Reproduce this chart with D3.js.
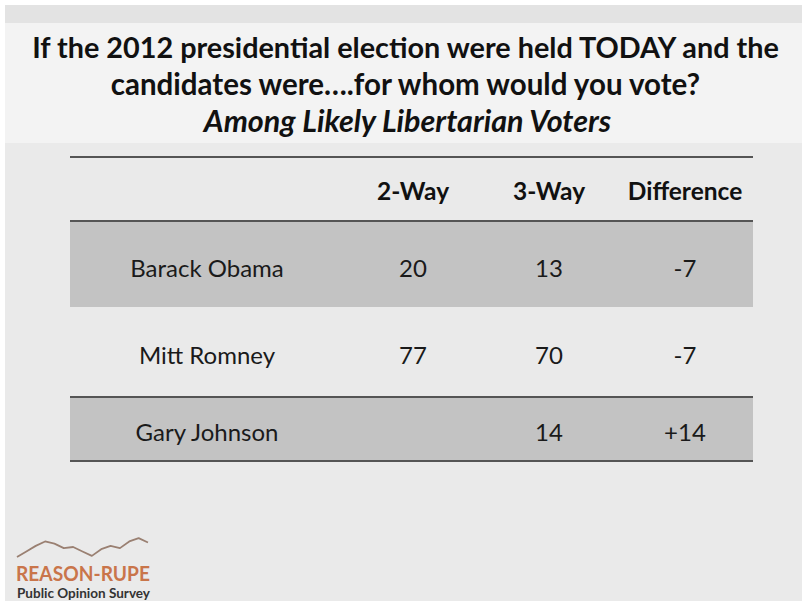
<!DOCTYPE html>
<html>
<head>
<meta charset="utf-8">
<script src="https://cdn.jsdelivr.net/npm/d3@7"></script>
<style>
  html, body { margin: 0; padding: 0; background: #fff; }
  svg { display: block; }
  text { font-family: Lato, "Open Sans", sans-serif; }
</style>
</head>
<body>
<svg id="chart"></svg>
<script>
// table content
const candidates = ["Barack Obama", "Mitt Romney", "Gary Johnson"];
const columns = ["", "2-Way", "3-Way", "Difference"];
const twoWay = [20, 77, null];
const threeWay = [13, 70, 14];
const difference = ["-7", "-7", "+14"];
const titleLines = [
  "If the 2012 presidential election were held TODAY and the",
  "candidates were\u2026.for whom would you vote?"
];
const subtitle = "Among Likely Libertarian Voters";
// logo sparkline (relative heights)
const logoLine = [0, 5, 10, 14, 12, 8, 9, 5, 1, 7, 10, 8, 14, 17, 13];

const width = 807, height = 607;
const svg = d3.select("#chart").attr("width", width).attr("height", height);

// backgrounds
svg.append("rect").attr("x", 5).attr("y", 5).attr("width", width - 10).attr("height", 596).attr("fill", "#eaeaea");
svg.append("rect").attr("x", 5).attr("y", 5).attr("width", width - 10).attr("height", 18).attr("fill", "#e3e3e3");
svg.append("rect").attr("x", 5).attr("y", 23).attr("width", width - 10).attr("height", 120).attr("fill", "#f3f3f3");

// title
svg.selectAll("text.title")
  .data(titleLines)
  .join("text")
  .attr("class", "title")
  .attr("x", width / 2 + 2)
  .attr("y", (d, i) => 58 + i * 37)
  .attr("text-anchor", "middle")
  .attr("font-size", (d, i) => i === 0 ? 28.8 : 29.5)
  .attr("font-weight", "bold")
  .attr("fill", "#111")
  .text(d => d);

svg.append("text")
  .attr("x", width / 2 + 4)
  .attr("y", 132)
  .attr("text-anchor", "middle")
  .attr("font-size", 30.5)
  .attr("font-weight", "bold")
  .attr("font-style", "italic")
  .attr("fill", "#111")
  .text(subtitle);

// table layout
const tableLeft = 70, tableRight = 753;
const rowEdges = [222, 307, 397, 461];
const headerY = 191;
const rowTop = d3.scaleOrdinal(candidates, rowEdges.slice(0, 3));
const rowBottom = d3.scaleOrdinal(candidates, rowEdges.slice(1));
const colX = d3.scaleOrdinal(columns, [207, 413, 549, 685]);

const shaded = new Set(["Barack Obama", "Gary Johnson"]);

svg.append("g").selectAll("rect")
  .data(candidates.filter(c => shaded.has(c)))
  .join("rect")
  .attr("x", tableLeft)
  .attr("width", tableRight - tableLeft)
  .attr("y", d => rowTop(d))
  .attr("height", d => rowBottom(d) - rowTop(d))
  .attr("fill", "#c3c3c3");

// rules
const rules = [157, 221, 397, 461];
svg.append("g").selectAll("line")
  .data(rules)
  .join("line")
  .attr("x1", tableLeft).attr("x2", tableRight)
  .attr("y1", d => d).attr("y2", d => d)
  .attr("stroke", "#555")
  .attr("stroke-width", 2);

// header
svg.append("g").selectAll("text")
  .data(columns.slice(1))
  .join("text")
  .attr("x", d => colX(d))
  .attr("y", headerY + 9)
  .attr("text-anchor", "middle")
  .attr("font-size", 24.5)
  .attr("font-weight", "bold")
  .attr("fill", "#111")
  .text(d => d);

// body cells
const rows = candidates.map((c, i) => [c, twoWay[i], threeWay[i], difference[i]]);
const cells = [];
rows.forEach((r, i) => r.forEach((v, j) => {
  if (v !== null) cells.push({ row: candidates[i], col: columns[j], value: v });
}));

svg.append("g").selectAll("text")
  .data(cells)
  .join("text")
  .attr("x", d => colX(d.col))
  .attr("y", d => (rowTop(d.row) + rowBottom(d.row)) / 2 + 12)
  .attr("text-anchor", "middle")
  .attr("font-size", 24)
  .attr("fill", "#1a1a1a")
  .text(d => d.value);

// logo
const lx = d3.scaleLinear().domain([0, logoLine.length - 1]).range([17, 148]);
const ly = d3.scaleLinear().domain([0, 18]).range([557, 537]);
svg.append("path")
  .datum(logoLine)
  .attr("d", d3.line().x((d, i) => lx(i)).y(d => ly(d)))
  .attr("fill", "none")
  .attr("stroke", "#9a8072")
  .attr("stroke-width", 1.8)
  .attr("stroke-linejoin", "round");

svg.append("text")
  .attr("x", 16).attr("y", 581)
  .attr("font-size", 21)
  .attr("font-weight", "bold")
  .attr("fill", "#c9754a")
  .attr("textLength", 134)
  .attr("lengthAdjust", "spacingAndGlyphs")
  .text("REASON-RUPE");

svg.append("text")
  .attr("x", 17).attr("y", 598)
  .attr("font-size", 12.5)
  .attr("font-weight", "bold")
  .attr("fill", "#333")
  .attr("textLength", 133)
  .attr("lengthAdjust", "spacingAndGlyphs")
  .text("Public Opinion Survey");
</script>
</body>
</html>
